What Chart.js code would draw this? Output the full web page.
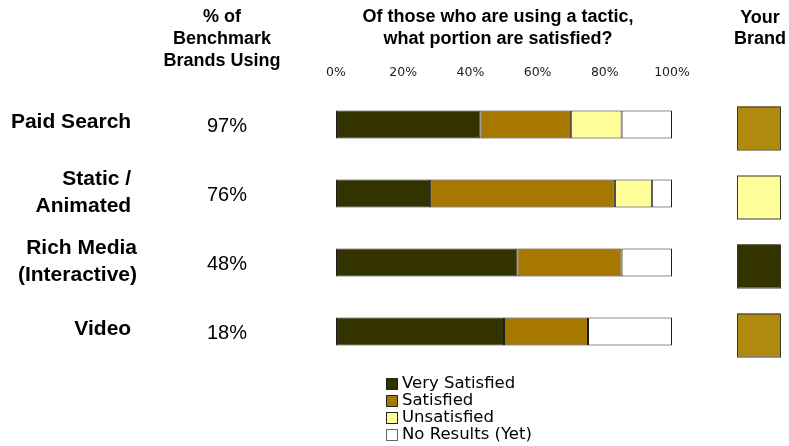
<!DOCTYPE html>
<html>
<head>
<meta charset="utf-8">
<script src="https://cdn.jsdelivr.net/npm/chart.js@4.4.1/dist/chart.umd.min.js"></script>
<style>
  html, body { margin: 0; padding: 0; background: #ffffff; }
</style>
</head>
<body>
<canvas id="satisfactionChart" width="789" height="446"></canvas>
<script>
const tactics = [['Paid Search '], ['Static / ', 'Animated '], ['Rich Media', '(Interactive)'], ['Video ']];
const benchmarkUsing = [97, 76, 48, 18];
const verySatisfied = [43, 28, 54, 50];
const satisfied = [27, 55, 31, 25];
const unsatisfied = [15, 11, 0, 0];
const noResults = [15, 6, 15, 25];
const xTicks = [0, 20, 40, 60, 80, 100];
const yourBrand = ['brandGold', 'unsatisfied', 'verySatisfied', 'brandGold'];
const seriesNames = ['Very Satisfied', 'Satisfied', 'Unsatisfied', 'No Results (Yet)'];

const palette = {
  verySatisfied: '#333300',
  satisfied: '#A67800',
  unsatisfied: '#FFFF99',
  noResults: '#FFFFFF',
  brandGold: '#AF8A0E',
  edge: '#1e1e1e',
  text: '#000000',
  tick: '#222222'
};

const headFont = 'bold 18px "Liberation Sans", Arial, sans-serif';
const labelFont = 'bold 21px "Liberation Sans", Arial, sans-serif';
const pctFont = '20px "Liberation Sans", Arial, sans-serif';
const legendFont = '16.5px "DejaVu Sans", Verdana, sans-serif';

function drawLines(ctx, lines, x, y, step) {
  lines.forEach((line, i) => ctx.fillText(line, x, y + i * step));
}

const sideText = {
  id: 'sideText',
  afterDraw(chart) {
    const { ctx, scales: { y } } = chart;
    const sets = chart.data.datasets;
    ctx.save();
    ctx.fillStyle = palette.text;
    ctx.textBaseline = 'middle';

    // column headers
    ctx.font = headFont;
    ctx.textAlign = 'center';
    drawLines(ctx, ['% of', 'Benchmark', 'Brands Using'], 222, 17, 22);
    drawLines(ctx, ['Of those who are using a tactic,', 'what portion are satisfied?'], 498, 17, 22);
    drawLines(ctx, ['Your', 'Brand'], 760, 18, 21);

    tactics.forEach((label, i) => {
      const cy = y.getPixelForValue(i);

      // tactic name
      ctx.font = labelFont;
      ctx.textAlign = 'right';
      ctx.fillStyle = palette.text;
      if (label.length === 1) {
        ctx.fillText(label[0], 137, cy - 2);
      } else {
        drawLines(ctx, label, 137, cy - 14.5, 27);
      }

      // % of benchmark brands
      ctx.font = pctFont;
      ctx.textAlign = 'center';
      ctx.fillText(benchmarkUsing[i] + '%', 227, cy + 2);

      // your brand square
      ctx.fillStyle = palette[yourBrand[i]];
      ctx.fillRect(737, cy - 18, 43, 43);
      ctx.strokeStyle = '#3a3a2a';
      ctx.lineWidth = 1;
      ctx.strokeRect(737.5, cy - 17.5, 43, 43);
    });

    // legend
    ctx.font = legendFont;
    ctx.textAlign = 'left';
    sets.forEach((ds, i) => {
      const ly = 384 + i * 17;
      ctx.fillStyle = ds.backgroundColor;
      ctx.fillRect(386, ly - 6, 11, 11);
      ctx.strokeStyle = i === 3 ? '#666666' : '#222222';
      ctx.strokeRect(386.5, ly - 5.5, 11, 11);
      ctx.fillStyle = palette.text;
      ctx.fillText(ds.label, 402, ly);
    });
    ctx.restore();
  }
};

function segment(label, data, color) {
  return {
    label,
    data,
    backgroundColor: color,
    borderColor: palette.edge,
    borderWidth: 1,
    borderSkipped: false,
    barPercentage: 1,
    categoryPercentage: 28 / 69
  };
}

new Chart(document.getElementById('satisfactionChart'), {
  type: 'bar',
  data: {
    labels: tactics,
    datasets: [
      segment(seriesNames[0], verySatisfied, palette.verySatisfied),
      segment(seriesNames[1], satisfied, palette.satisfied),
      segment(seriesNames[2], unsatisfied, palette.unsatisfied),
      segment(seriesNames[3], noResults, palette.noResults)
    ]
  },
  options: {
    indexAxis: 'y',
    responsive: false,
    animation: false,
    layout: { padding: { left: 336, right: 117, top: 60, bottom: 80 } },
    plugins: {
      legend: { display: false },
      tooltip: { enabled: true }
    },
    scales: {
      x: {
        position: 'top',
        stacked: true,
        min: 0,
        max: 100,
        afterBuildTicks: s => { s.ticks = xTicks.map(v => ({ value: v })); },
        afterFit: s => { s.height = 30; },
        grid: { display: false, drawTicks: false },
        border: { display: false },
        ticks: {
          padding: 10,
          color: palette.tick,
          font: { family: '"DejaVu Sans", Verdana, sans-serif', size: 12.5 },
          callback: v => v + '%'
        }
      },
      y: {
        stacked: true,
        display: false
      }
    }
  },
  plugins: [sideText]
});
</script>
</body>
</html>
